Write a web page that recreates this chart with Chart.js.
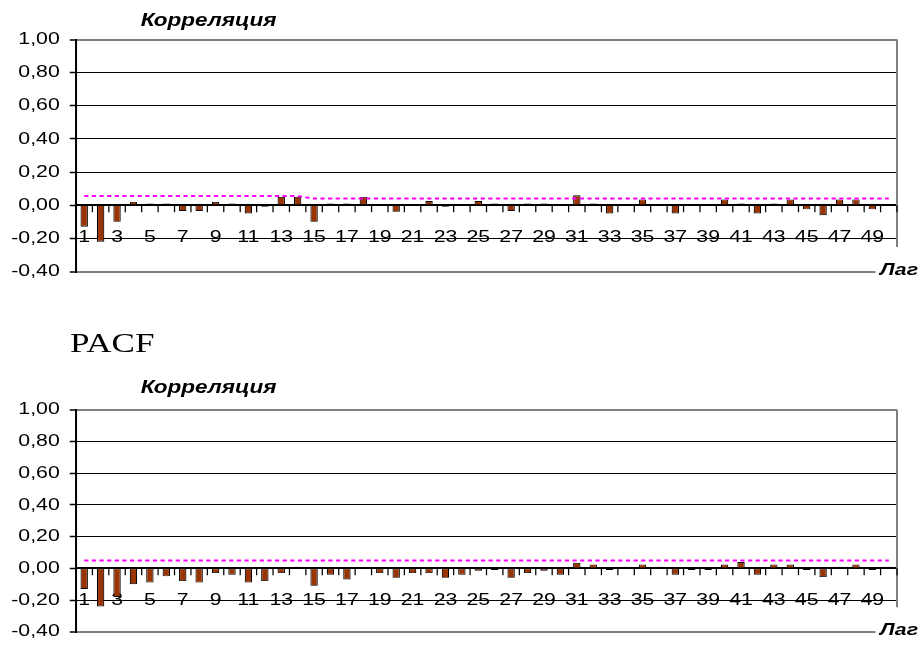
<!DOCTYPE html>
<html lang="ru">
<head>
<meta charset="utf-8">
<title>ACF / PACF</title>
<script src="https://cdn.jsdelivr.net/npm/chart.js@4.4.1/dist/chart.umd.min.js"></script>
<style>
  html, body { margin: 0; padding: 0; background: #fff; }
  body { width: 923px; height: 650px; position: relative; overflow: hidden; }
  canvas { position: absolute; left: 0; }
  #acf { top: 0; }
  #pacf { top: 300px; }
</style>
</head>
<body>
<canvas id="acf" width="738" height="300"></canvas>
<canvas id="pacf" width="738" height="350"></canvas>
<script>
// Categorías del eje X (lags)
const lags = ['1', '2', '3', '4', '5', '6', '7', '8', '9', '10',
    '11', '12', '13', '14', '15', '16', '17', '18', '19', '20',
    '21', '22', '23', '24', '25', '26', '27', '28', '29', '30',
    '31', '32', '33', '34', '35', '36', '37', '38', '39', '40',
    '41', '42', '43', '44', '45', '46', '47', '48', '49', '50'];

// Autocorrelación (gráfico superior)
const acf = [-0.13, -0.22, -0.10, 0.02, 0.01, 0.01, -0.035, -0.035, 0.02, 0.01,
    -0.05, -0.01, 0.05, 0.05, -0.10, 0.01, 0.01, 0.05, 0, -0.04,
    0, 0.025, -0.01, 0, 0.025, 0.01, -0.035, 0.01, 0.01, 0,
    0.06, 0.01, -0.05, 0, 0.035, 0, -0.05, 0, 0, 0.035,
    0.01, -0.05, 0.01, 0.035, -0.025, -0.06, 0.035, 0.035, -0.025, 0];

// Límite de confianza (línea punteada) del gráfico superior
const acfLimite = [0.055, 0.055, 0.055, 0.055, 0.055, 0.055, 0.055, 0.055, 0.055, 0.055,
    0.055, 0.055, 0.055, 0.055, 0.04, 0.04, 0.04, 0.04, 0.04, 0.04,
    0.04, 0.04, 0.04, 0.04, 0.04, 0.04, 0.04, 0.04, 0.04, 0.04,
    0.04, 0.04, 0.04, 0.04, 0.04, 0.04, 0.04, 0.04, 0.04, 0.04,
    0.04, 0.04, 0.04, 0.04, 0.04, 0.04, 0.04, 0.04, 0.04, 0.04];

// Autocorrelación parcial (gráfico inferior)
const pacf = [-0.13, -0.24, -0.18, -0.10, -0.09, -0.05, -0.08, -0.09, -0.03, -0.04,
    -0.09, -0.08, -0.03, 0.01, -0.11, -0.04, -0.07, 0, -0.03, -0.06,
    -0.03, -0.03, -0.06, -0.04, -0.015, -0.01, -0.06, -0.03, -0.015, -0.04,
    0.035, 0.025, -0.01, 0.01, 0.025, 0.01, -0.04, -0.01, -0.01, 0.025,
    0.04, -0.04, 0.025, 0.025, -0.01, -0.055, 0.01, 0.025, -0.01, 0.01];

// Límite de confianza del gráfico inferior
const pacfLimite = [0.05, 0.05, 0.05, 0.05, 0.05, 0.05, 0.05, 0.05, 0.05, 0.05,
    0.05, 0.05, 0.05, 0.05, 0.05, 0.05, 0.05, 0.05, 0.05, 0.05,
    0.05, 0.05, 0.05, 0.05, 0.05, 0.05, 0.05, 0.05, 0.05, 0.05,
    0.05, 0.05, 0.05, 0.05, 0.05, 0.05, 0.05, 0.05, 0.05, 0.05,
    0.05, 0.05, 0.05, 0.05, 0.05, 0.05, 0.05, 0.05, 0.05, 0.05];

// Etiquetas del eje Y, de abajo hacia arriba
const etiquetasY = ['-0,40', '-0,20', '0,00', '0,20', '0,40', '0,60', '0,80', '1,00'];

const tituloEjeY = 'Корреляция';
const tituloEjeX = 'Лаг';
const tituloPacf = 'PACF';

const FUENTE = 'Arial, "Liberation Sans", sans-serif';
const ANCHO_REAL = 923;
const ANCHO_LOGICO = 738;
const ESCALA_X = ANCHO_REAL / ANCHO_LOGICO; // el original está estirado en horizontal

// Plugin para los textos, el marco gris y las marcas cortas del eje X
const decoracion = {
    id: 'decoracion',
    beforeDatasetsDraw(chart) {
        const { ctx, chartArea: a, scales } = chart;
        const cero = scales.y.getPixelForValue(0);
        ctx.save();
        // borde derecho gris del área de trazado
        ctx.strokeStyle = '#808080';
        ctx.lineWidth = 1.6;
        ctx.beginPath();
        ctx.moveTo(a.right, a.top);
        ctx.lineTo(a.right, a.bottom);
        ctx.stroke();
        // marcas entre categorías, debajo del eje cero
        ctx.strokeStyle = '#000';
        ctx.lineWidth = 1;
        ctx.beginPath();
        const paso = scales.x.getPixelForTick(1) - scales.x.getPixelForTick(0);
        for (let i = 0; i <= lags.length; i++) {
            const x = scales.x.getPixelForTick(0) - paso / 2 + i * paso;
            ctx.moveTo(x, cero);
            ctx.lineTo(x, cero + 7);
        }
        ctx.stroke();
        ctx.restore();
    },
    afterDraw(chart, args, opts) {
        const { ctx, chartArea: a } = chart;
        ctx.save();
        // caja blanca detrás del título "Лаг"
        ctx.fillStyle = '#fff';
        ctx.fillRect(a.right - 17.2, a.bottom - 24.5, 60, 60);
        ctx.fillStyle = '#000';
        ctx.textBaseline = 'alphabetic';
        ctx.font = 'bold italic 17px ' + FUENTE;
        ctx.textAlign = 'left';
        ctx.fillText(tituloEjeX, a.right - 13.6, a.bottom + 3);
        ctx.textAlign = 'center';
        ctx.font = 'bold italic 18px ' + FUENTE;
        ctx.fillText(tituloEjeY, a.left + 106, a.top - opts.tituloArriba);
        if (opts.pacf) {
            ctx.textAlign = 'left';
            ctx.font = '28px "Times New Roman", "Liberation Serif", serif';
            ctx.fillText(tituloPacf, 56, 51.7);
        }
        ctx.restore();
    }
};

function crearGrafico(idCanvas, valores, limite, padding, opcionesDeco) {
    const canvas = document.getElementById(idCanvas);
    const chart = new Chart(canvas.getContext('2d'), {
        type: 'bar',
        data: {
            labels: lags,
            datasets: [{
                type: 'line',
                data: limite,
                borderColor: '#ff00ff',
                borderWidth: 2,
                borderDash: [3.4, 2.7],
                pointRadius: 0,
                fill: false,
                tension: 0,
                order: 1
            }, {
                type: 'bar',
                data: valores,
                backgroundColor: '#993300',
                borderColor: '#000',
                borderWidth: 0.9,
                borderSkipped: false,
                barPercentage: 0.45,
                categoryPercentage: 1,
                order: 2
            }]
        },
        options: {
            responsive: false,
            animation: false,
            events: [],
            layout: { padding: padding },
            plugins: {
                legend: { display: false },
                tooltip: { enabled: false },
                decoracion: opcionesDeco
            },
            scales: {
                x: {
                    position: { y: 0 },
                    offset: true,
                    grid: { display: false },
                    border: { display: true, color: '#000', width: 2 },
                    ticks: {
                        autoSkip: false,
                        maxRotation: 0,
                        minRotation: 0,
                        padding: 14,
                        color: '#000',
                        font: { family: FUENTE, size: 17 },
                        callback: (v, i) => (i % 2 === 0 ? lags[i] : '')
                    },
                    afterFit: s => { s.height = 0; }
                },
                y: {
                    min: -0.4,
                    max: 1,
                    ticks: {
                        stepSize: 0.2,
                        padding: 8,
                        color: '#000',
                        font: { family: FUENTE, size: 17 },
                        callback: (v, i) => etiquetasY[i]
                    },
                    grid: {
                        color: c => (c.index === 0 || c.index === 7 ? '#808080' : '#000'),
                        lineWidth: c => (c.index === 0 || c.index === 7 ? 2 : 1),
                        tickLength: 5,
                        tickColor: '#000',
                        tickWidth: 1.5
                    },
                    border: { color: '#000', width: 1.6 },
                    afterFit: s => { s.width = 76 / ESCALA_X; }
                }
            }
        },
        plugins: [decoracion]
    });

    // Estirar en horizontal como en la imagen original
    canvas.width = ANCHO_REAL;
    canvas.style.width = ANCHO_REAL + 'px';
    chart.ctx.setTransform(ESCALA_X, 0, 0, 1, 0, 0);
    chart.draw();
    return chart;
}

const derecha = ANCHO_LOGICO - 897 / ESCALA_X;
crearGrafico('acf', acf, acfLimite,
    { left: 0, right: derecha, top: 39.5, bottom: 300 - 271.5 },
    { tituloArriba: 13.8, pacf: false });
crearGrafico('pacf', pacf, pacfLimite,
    { left: 0, right: derecha, top: 109.7, bottom: 350 - 341.7 },
    { tituloArriba: 17, pacf: true });
</script>
</body>
</html>
